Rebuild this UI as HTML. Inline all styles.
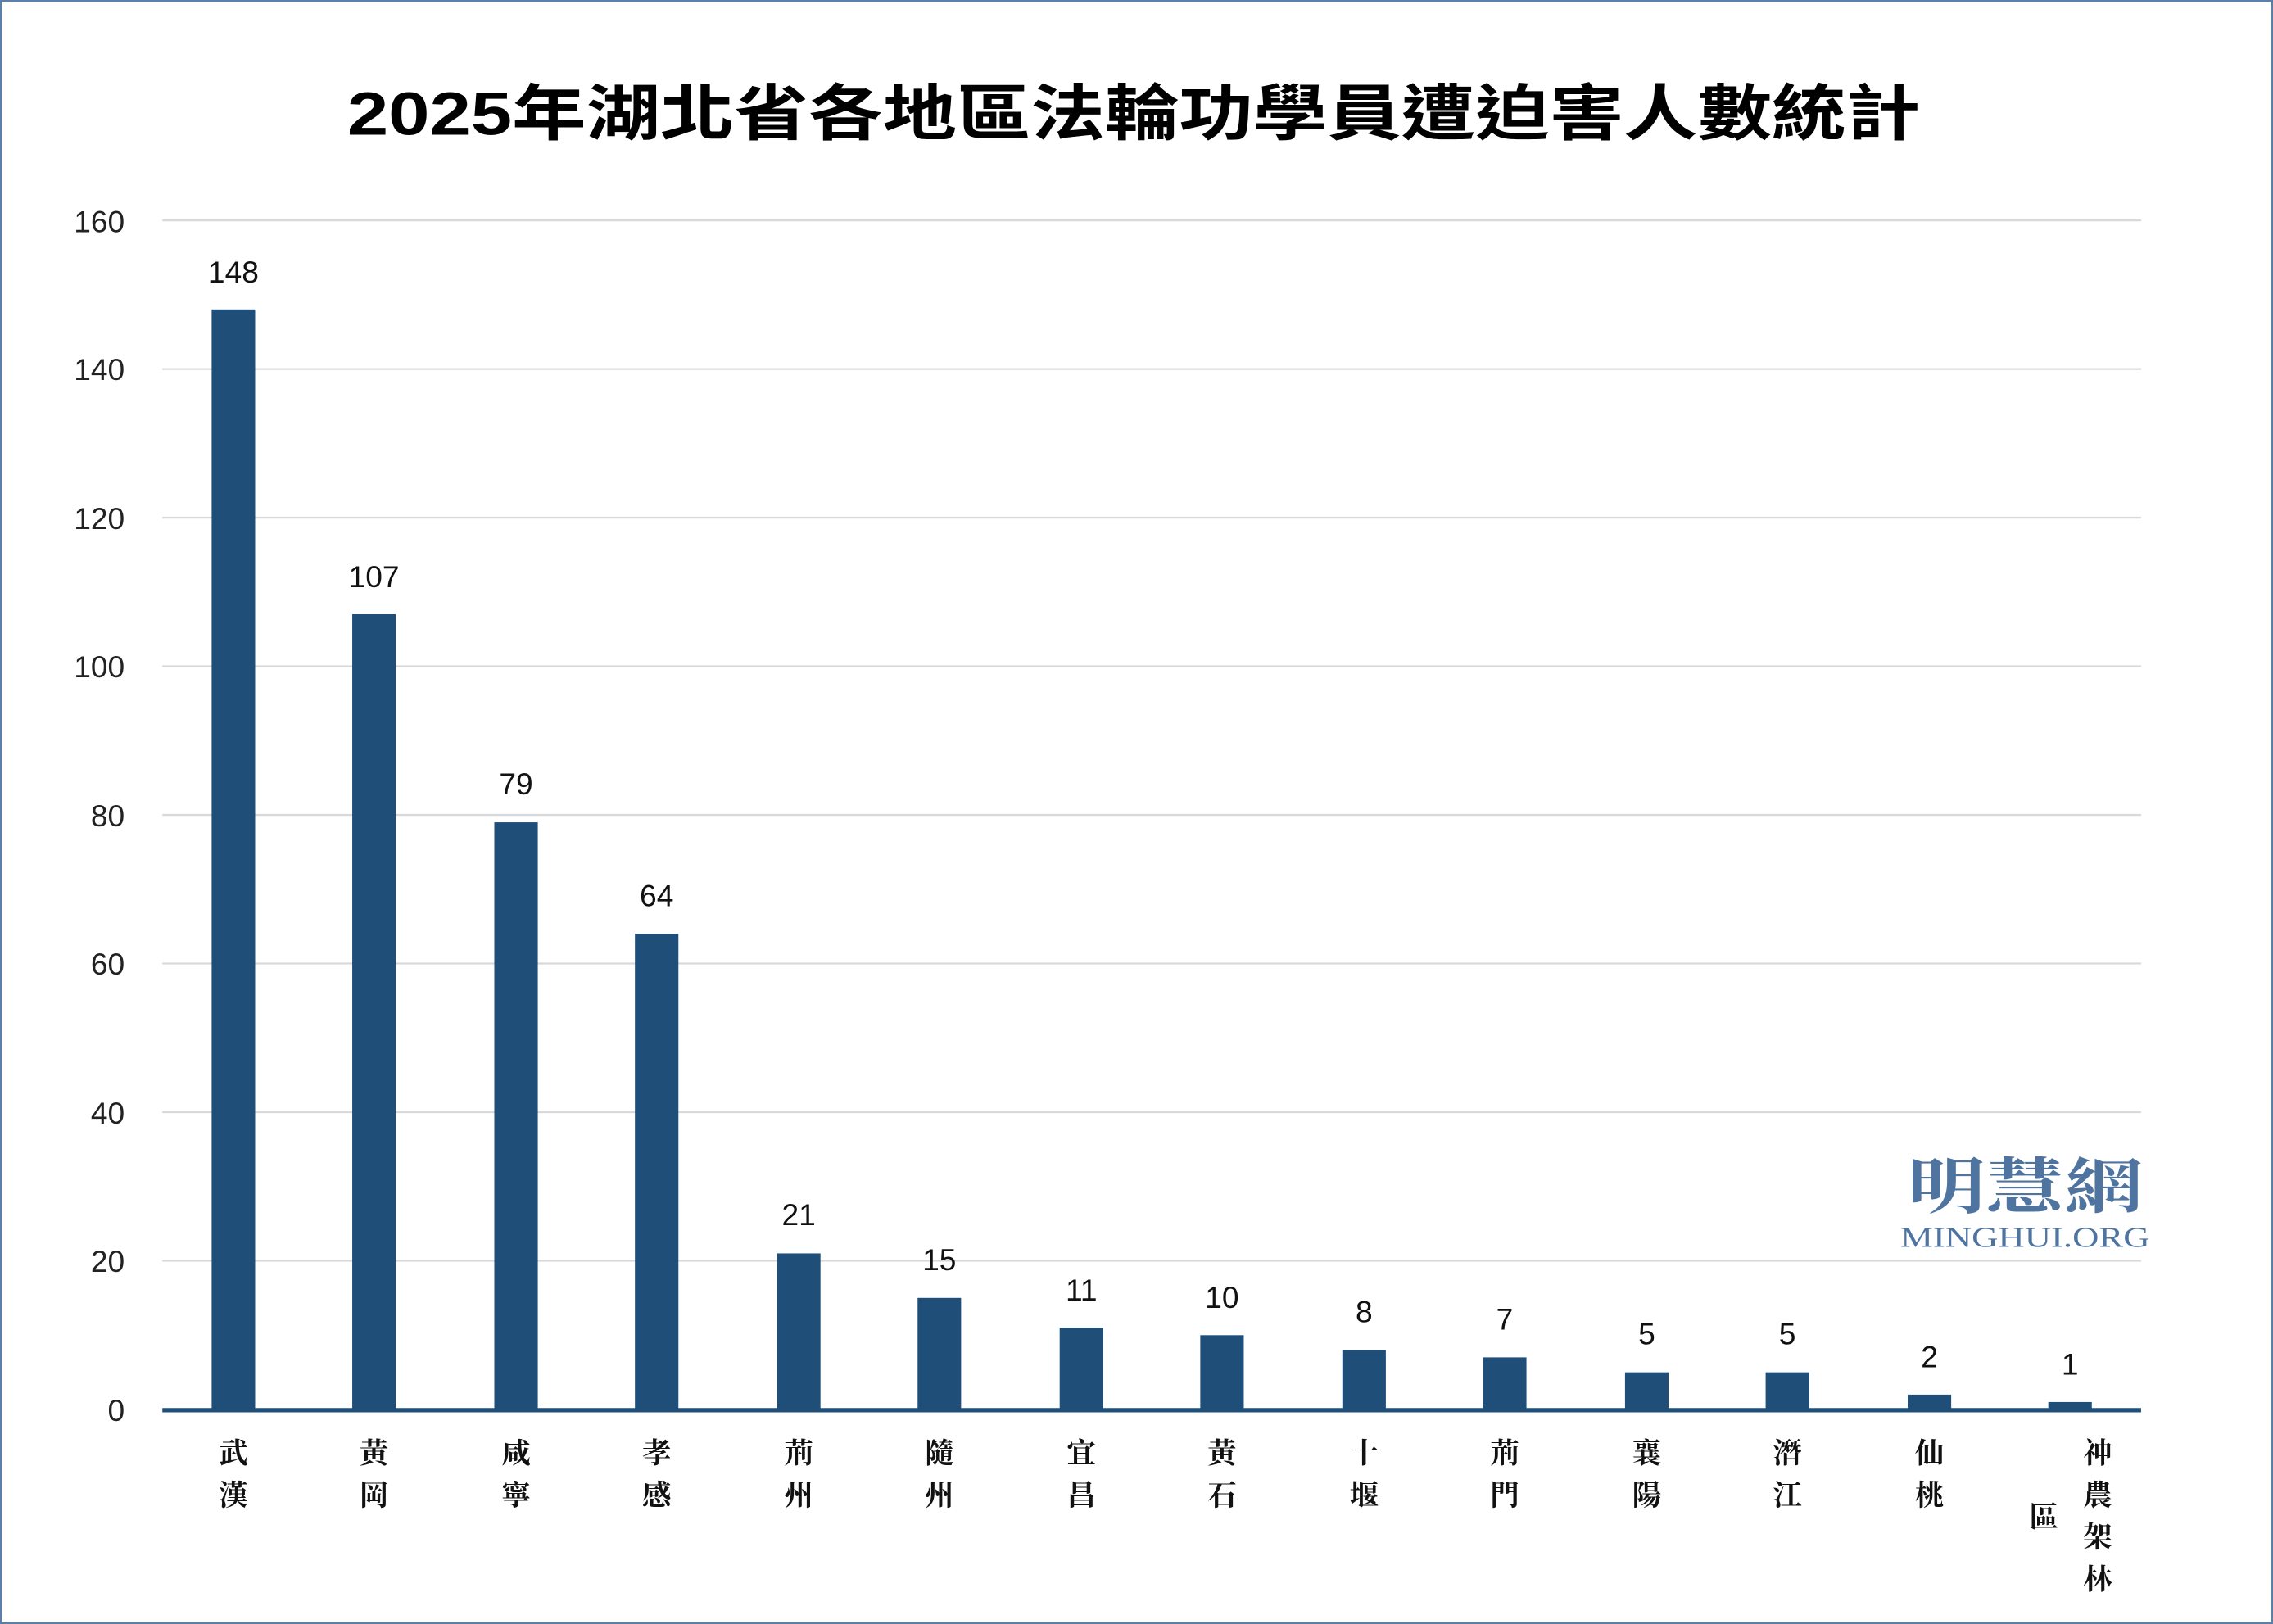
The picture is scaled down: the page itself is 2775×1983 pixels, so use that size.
<!DOCTYPE html>
<html><head><meta charset="utf-8"><style>
html,body{margin:0;padding:0;background:#fff;}
svg{display:block;}
</style></head><body>
<svg width="2775" height="1983" viewBox="0 0 1568 1120" preserveAspectRatio="none" xmlns="http://www.w3.org/2000/svg">
<rect x="0.5" y="0.5" width="1567" height="1119" fill="#fff" stroke="#5a7fa8" stroke-width="1.5"/>
<text x="782" y="93" text-anchor="middle" textLength="1085" lengthAdjust="spacingAndGlyphs" font-family="'Liberation Sans','Noto Sans CJK TC',sans-serif" font-weight="bold" font-size="42" fill="#000">2025年湖北省各地區法輪功學員遭迫害人數統計</text>
<g stroke="#d9d9d9" stroke-width="1.3">
<line x1="112" x2="1477" y1="152" y2="152"/><line x1="112" x2="1477" y1="254.5" y2="254.5"/>
<line x1="112" x2="1477" y1="357" y2="357"/><line x1="112" x2="1477" y1="459.5" y2="459.5"/>
<line x1="112" x2="1477" y1="562" y2="562"/><line x1="112" x2="1477" y1="664.5" y2="664.5"/>
<line x1="112" x2="1477" y1="767" y2="767"/><line x1="112" x2="1477" y1="869.5" y2="869.5"/>
</g>
<g font-family="'Liberation Sans',sans-serif" font-size="21" fill="#222" text-anchor="end">
<text x="86" y="160">160</text><text x="86" y="262">140</text><text x="86" y="365">120</text>
<text x="86" y="467">100</text><text x="86" y="570">80</text><text x="86" y="672">60</text>
<text x="86" y="775">40</text><text x="86" y="877">20</text><text x="86" y="980">0</text>
</g>
<g fill="#1f4e79">
<rect x="146" y="213.4" width="30" height="758.6"/>
<rect x="243" y="423.6" width="30" height="548.4"/>
<rect x="341" y="567.1" width="30" height="404.9"/>
<rect x="438" y="644" width="30" height="328"/>
<rect x="536" y="864.4" width="30" height="107.6"/>
<rect x="633" y="895.1" width="30" height="76.9"/>
<rect x="731" y="915.6" width="30" height="56.4"/>
<rect x="828" y="920.8" width="30" height="51.2"/>
<rect x="926" y="931" width="30" height="41"/>
<rect x="1023" y="936.1" width="30" height="35.9"/>
<rect x="1121" y="946.4" width="30" height="25.6"/>
<rect x="1218" y="946.4" width="30" height="25.6"/>
<rect x="1316" y="961.8" width="30" height="10.2"/>
<rect x="1413" y="966.9" width="30" height="5.1"/>
</g>
<line x1="112" x2="1477" y1="972.5" y2="972.5" stroke="#1f4e79" stroke-width="3"/>
<g font-family="'Liberation Sans',sans-serif" font-size="21" fill="#111" text-anchor="middle">
<text x="161" y="195">148</text><text x="258" y="405">107</text><text x="356" y="548">79</text>
<text x="453" y="625">64</text><text x="551" y="845">21</text><text x="648" y="876">15</text>
<text x="746" y="897">11</text><text x="843" y="902">10</text><text x="941" y="912">8</text>
<text x="1038" y="917">7</text><text x="1136" y="927">5</text><text x="1233" y="927">5</text>
<text x="1331" y="943">2</text><text x="1428" y="948">1</text>
</g>
<g font-family="'Noto Serif CJK SC','Noto Sans CJK TC',serif" font-weight="bold" font-size="20" fill="#111" text-anchor="middle">
<text x="161" y="1009">武</text><text x="161" y="1038">漢</text>
<text x="258" y="1009">黃</text><text x="258" y="1038">岡</text>
<text x="356" y="1009">咸</text><text x="356" y="1038">寧</text>
<text x="453" y="1009">孝</text><text x="453" y="1038">感</text>
<text x="551" y="1009">荊</text><text x="551" y="1038">州</text>
<text x="648" y="1009">隨</text><text x="648" y="1038">州</text>
<text x="746" y="1009">宜</text><text x="746" y="1038">昌</text>
<text x="843" y="1009">黃</text><text x="843" y="1038">石</text>
<text x="941" y="1009">十</text><text x="941" y="1038">堰</text>
<text x="1038" y="1009">荊</text><text x="1038" y="1038">門</text>
<text x="1136" y="1009">襄</text><text x="1136" y="1038">陽</text>
<text x="1233" y="1009">潛</text><text x="1233" y="1038">江</text>
<text x="1331" y="1009">仙</text><text x="1331" y="1038">桃</text>
<text x="1447" y="1009">神</text><text x="1447" y="1038">農</text>
<text x="1447" y="1067">架</text><text x="1447" y="1096">林</text>
<text x="1410" y="1053">區</text>
</g>
<text x="1397" y="833" text-anchor="middle" textLength="163" lengthAdjust="spacingAndGlyphs" font-family="'Noto Serif CJK SC','Noto Sans CJK TC',serif" font-weight="bold" font-size="42" fill="#4f74a0">明慧網</text>
<text x="1397" y="860" text-anchor="middle" textLength="172" lengthAdjust="spacingAndGlyphs" font-family="'Liberation Serif',serif" font-size="20" fill="#4f74a0">MINGHUI.ORG</text>
</svg>
</body></html>
